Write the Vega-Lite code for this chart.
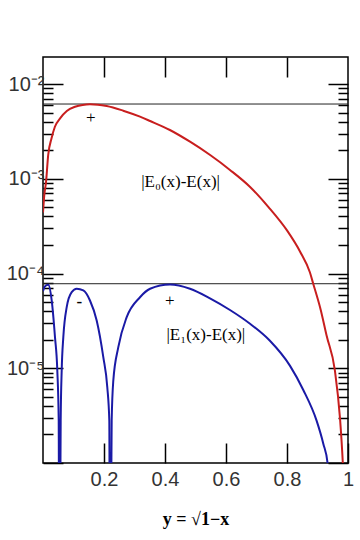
{
  "$schema": "https://vega.github.io/schema/vega-lite/v6.json",
  "width": 305,
  "height": 406,
  "autosize": "none",
  "padding": {"left": 43, "top": 57, "right": 12, "bottom": 77},
  "background": "white",
  "datasets": {
    "red": [
      {"yv": 0, "err": 0.00044}, {"yv": 0.004, "err": 0.00066}, {"yv": 0.01, "err": 0.00093},
      {"yv": 0.017, "err": 0.00178}, {"yv": 0.028, "err": 0.00267}, {"yv": 0.039, "err": 0.00354},
      {"yv": 0.056, "err": 0.00434}, {"yv": 0.078, "err": 0.00519}, {"yv": 0.105, "err": 0.00575},
      {"yv": 0.13, "err": 0.00602}, {"yv": 0.154, "err": 0.0061}, {"yv": 0.18, "err": 0.00605},
      {"yv": 0.209, "err": 0.00586}, {"yv": 0.263, "err": 0.00523}, {"yv": 0.318, "err": 0.00452},
      {"yv": 0.351, "err": 0.00407}, {"yv": 0.416, "err": 0.00327}, {"yv": 0.482, "err": 0.00246},
      {"yv": 0.548, "err": 0.00178}, {"yv": 0.613, "err": 0.00124}, {"yv": 0.679, "err": 0.00082},
      {"yv": 0.74, "err": 0.0005}, {"yv": 0.8, "err": 0.000285}, {"yv": 0.843, "err": 0.00017},
      {"yv": 0.875, "err": 0.000103}, {"yv": 0.886, "err": 0.000078}, {"yv": 0.91, "err": 0.000042},
      {"yv": 0.93, "err": 0.000022}, {"yv": 0.957, "err": 0.0000095}, {"yv": 0.974, "err": 0.0000029},
      {"yv": 0.983, "err": 0.000001}, {"yv": 0.99, "err": 0.0000003}
    ],
    "blue": [
      {"yv": 0, "err": 0.000065}, {"yv": 0.006, "err": 0.000073}, {"yv": 0.0174, "err": 0.000076},
      {"yv": 0.0285, "err": 0.000052}, {"yv": 0.0393, "err": 0.0000213}, {"yv": 0.0469, "err": 0.0000095},
      {"yv": 0.0515, "err": 0.0000028}, {"yv": 0.0535, "err": 0.00000001}, {"yv": 0.058, "err": 0.0000028},
      {"yv": 0.0613, "err": 0.0000095}, {"yv": 0.0666, "err": 0.0000213}, {"yv": 0.0777, "err": 0.0000441},
      {"yv": 0.0941, "err": 0.0000635}, {"yv": 0.1105, "err": 0.000069}, {"yv": 0.1321, "err": 0.0000662},
      {"yv": 0.154, "err": 0.0000519}, {"yv": 0.176, "err": 0.0000319}, {"yv": 0.1977, "err": 0.0000131},
      {"yv": 0.2108, "err": 0.0000063}, {"yv": 0.2174, "err": 0.0000028}, {"yv": 0.2197, "err": 0.00000001},
      {"yv": 0.2252, "err": 0.0000028}, {"yv": 0.2305, "err": 0.0000074}, {"yv": 0.2469, "err": 0.0000167},
      {"yv": 0.2744, "err": 0.0000346}, {"yv": 0.318, "err": 0.0000562}, {"yv": 0.351, "err": 0.000069},
      {"yv": 0.4164, "err": 0.0000765}, {"yv": 0.482, "err": 0.000069}, {"yv": 0.5475, "err": 0.0000547},
      {"yv": 0.613, "err": 0.0000412}, {"yv": 0.6787, "err": 0.0000295}, {"yv": 0.744, "err": 0.0000195},
      {"yv": 0.81, "err": 0.0000106}, {"yv": 0.8534, "err": 0.0000059}, {"yv": 0.897, "err": 0.0000028},
      {"yv": 0.919, "err": 0.0000016}, {"yv": 0.933, "err": 0.000001}, {"yv": 0.945, "err": 0.0000003}
    ],
    "levels": [{"level": 0.00615}, {"level": 0.000078}],
    "signs": [
      {"yv": 0.157, "err": 0.00435, "t": "+"},
      {"yv": 0.416, "err": 0.000051, "t": "+"}
    ],
    "minus": [{"yv": 0.119, "err": 0.0000506, "t": "-"}],
    "labels": [
      {"yv": 0.451, "err": 0.000924, "t": "|E₀(x)-E(x)|"},
      {"yv": 0.534, "err": 0.0000222, "t": "|E₁(x)-E(x)|"}
    ]
  },
  "resolve": {"axis": {"x": "independent", "y": "independent"}},
  "layer": [
    {
      "data": {"name": "levels"},
      "mark": {"type": "rule", "color": "#222", "strokeWidth": 1},
      "encoding": {
        "y": {"field": "level", "type": "quantitative", "scale": {"type": "log", "domain": [0.000001, 0.01928], "nice": false}, "axis": null}
      }
    },
    {
      "data": {"name": "red"},
      "mark": {"type": "line", "color": "#c81e1e", "strokeWidth": 2, "clip": true, "interpolate": "monotone"},
      "encoding": {
        "x": {"field": "yv", "type": "quantitative", "scale": {"domain": [0, 1], "nice": false, "zero": false},
          "axis": {"orient": "bottom", "values": [0.2, 0.4, 0.6, 0.8, 1], "tickSize": -20, "labelPadding": 26, "format": "~g", "labelFlush": false,
            "title": "y = √1−x", "titleFont": "Liberation Serif", "titleFontWeight": "bold", "titleFontSize": 18, "titleColor": "#000", "titlePadding": 21}},
        "y": {"field": "err", "type": "quantitative", "scale": {"type": "log", "domain": [0.000001, 0.01928], "nice": false},
          "axis": {"orient": "left", "title": null,
            "values": [0.000001, 0.000002, 0.000003, 0.000004, 0.000005, 0.000006, 0.000007, 0.000008, 0.000009,
              0.00001, 0.00002, 0.00003, 0.00004, 0.00005, 0.00006, 0.00007, 0.00008, 0.00009,
              0.0001, 0.0002, 0.0003, 0.0004, 0.0005, 0.0006, 0.0007, 0.0008, 0.0009,
              0.001, 0.002, 0.003, 0.004, 0.005, 0.006, 0.007, 0.008, 0.009, 0.01],
            "tickSize": {"condition": {"test": "abs(log(datum.value)/LN10 - round(log(datum.value)/LN10)) < 0.001", "value": -20}, "value": -10},
            "labelPadding": 19, "labelOverlap": false, "labelBound": false, "labelFlush": false,
            "labelExpr": "datum.value === 0.01 ? '10⁻²' : datum.value === 0.001 ? '10⁻³' : datum.value === 0.0001 ? '10⁻⁴' : datum.value === 0.00001 ? '10⁻⁵' : ''"}}
      }
    },
    {
      "data": {"name": "blue"},
      "mark": {"type": "line", "color": "#1a1aa6", "strokeWidth": 2, "clip": true, "interpolate": "monotone"},
      "encoding": {
        "x": {"field": "yv", "type": "quantitative", "scale": {"domain": [0, 1], "nice": false, "zero": false},
          "axis": {"orient": "top", "values": [0.2, 0.4, 0.6, 0.8], "tickSize": -20, "labels": false, "title": null}},
        "y": {"field": "err", "type": "quantitative", "scale": {"type": "log", "domain": [0.000001, 0.01928], "nice": false},
          "axis": {"orient": "right", "title": null, "labels": false,
            "values": [0.000001, 0.000002, 0.000003, 0.000004, 0.000005, 0.000006, 0.000007, 0.000008, 0.000009,
              0.00001, 0.00002, 0.00003, 0.00004, 0.00005, 0.00006, 0.00007, 0.00008, 0.00009,
              0.0001, 0.0002, 0.0003, 0.0004, 0.0005, 0.0006, 0.0007, 0.0008, 0.0009,
              0.001, 0.002, 0.003, 0.004, 0.005, 0.006, 0.007, 0.008, 0.009, 0.01],
            "tickSize": {"condition": {"test": "abs(log(datum.value)/LN10 - round(log(datum.value)/LN10)) < 0.001", "value": -20}, "value": -10}}}
      }
    },
    {
      "data": {"name": "signs"},
      "mark": {"type": "text", "font": "Liberation Serif", "fontSize": 17, "color": "#000"},
      "encoding": {
        "x": {"field": "yv", "type": "quantitative", "axis": null},
        "y": {"field": "err", "type": "quantitative", "axis": null},
        "text": {"field": "t"}
      }
    },
    {
      "data": {"name": "minus"},
      "mark": {"type": "text", "font": "Liberation Serif", "fontSize": 17, "fontWeight": "bold", "color": "#000"},
      "encoding": {
        "x": {"field": "yv", "type": "quantitative", "axis": null},
        "y": {"field": "err", "type": "quantitative", "axis": null},
        "text": {"field": "t"}
      }
    },
    {
      "data": {"name": "labels"},
      "mark": {"type": "text", "font": "Liberation Serif", "fontSize": 17, "color": "#000"},
      "encoding": {
        "x": {"field": "yv", "type": "quantitative", "axis": null},
        "y": {"field": "err", "type": "quantitative", "axis": null},
        "text": {"field": "t"}
      }
    }
  ],
  "config": {
    "view": {"stroke": "#000", "strokeWidth": 1.5},
    "axis": {"domain": false, "grid": false, "tickColor": "#000", "tickWidth": 1.5,
      "labelFont": "Liberation Sans", "labelFontSize": 20, "labelColor": "#333"}
  }
}
